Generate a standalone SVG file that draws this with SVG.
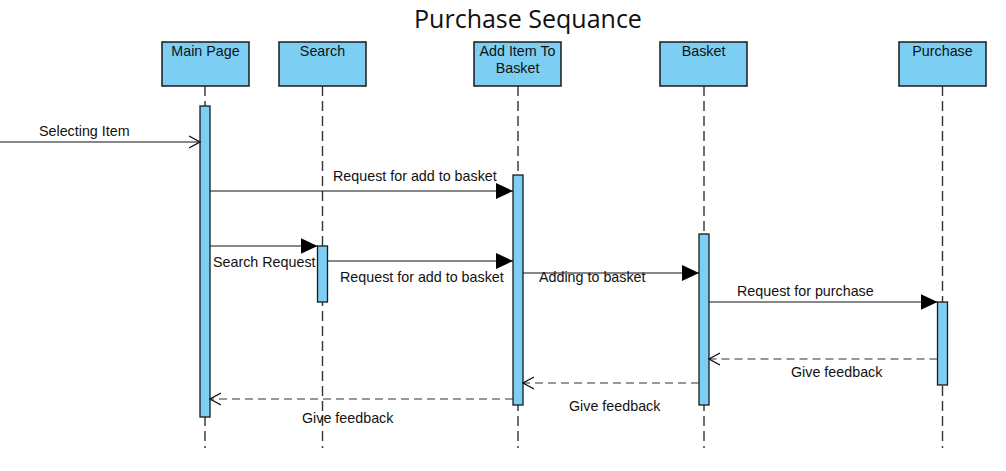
<svg xmlns="http://www.w3.org/2000/svg" width="1006" height="471" viewBox="0 0 1006 471">
<defs>
<style>
.hdr{fill:#7ccff3;stroke:#1a1a1a;stroke-width:1.5}
.act{fill:#7ccff3;stroke:#1a1a1a;stroke-width:1.3}
.life{stroke:#333;stroke-width:1.4;stroke-dasharray:10,5;fill:none}
.msg{stroke:#111;stroke-width:1.2;fill:none}
.ret{stroke:#333;stroke-width:1.2;fill:none;stroke-dasharray:8,5}
.t{font-family:"Liberation Sans",Arial,sans-serif;font-size:14.3px;fill:#111}
.c{text-anchor:middle}
</style>
<marker id="filled" viewBox="0 0 17 16" refX="17" refY="8" markerWidth="17" markerHeight="16" markerUnits="userSpaceOnUse" orient="auto"><path d="M0,0 L17,8 L0,16 Z" fill="#000"/></marker>
<marker id="open" viewBox="0 0 12 14" refX="11" refY="7" markerWidth="12" markerHeight="14" markerUnits="userSpaceOnUse" orient="auto"><path d="M0,1 L11,7 L0,13" fill="none" stroke="#111" stroke-width="1.2"/></marker>
</defs>
<rect width="1006" height="471" fill="#fff"/>
<text x="528" y="28" text-anchor="middle" font-family="'Open Sans','Noto Sans',sans-serif" font-size="25" fill="#111">Purchase Sequance</text>

<g id="mainpage">
<line class="life" x1="205" y1="86" x2="205" y2="448"/>
<rect class="hdr" x="162" y="42" width="87" height="44"/>
<text class="t c" x="205.5" y="56">Main Page</text>
<rect class="act" x="200" y="106" width="10" height="311"/>
</g>
<g id="search">
<line class="life" x1="322.5" y1="86" x2="322.5" y2="448"/>
<rect class="hdr" x="279" y="42" width="87" height="44"/>
<text class="t c" x="322.5" y="56">Search</text>
<rect class="act" x="317.5" y="246" width="10" height="56"/>
</g>
<g id="additem">
<line class="life" x1="518" y1="86" x2="518" y2="448"/>
<rect class="hdr" x="474" y="42" width="87" height="44"/>
<text class="t c" x="517.5" y="56">Add Item To</text>
<text class="t c" x="517.5" y="73">Basket</text>
<rect class="act" x="513" y="175" width="10" height="230"/>
</g>
<g id="basket">
<line class="life" x1="704" y1="86" x2="704" y2="448"/>
<rect class="hdr" x="660" y="42" width="87" height="44"/>
<text class="t c" x="703.5" y="56">Basket</text>
<rect class="act" x="699" y="234" width="10" height="171"/>
</g>
<g id="purchase">
<line class="life" x1="942.5" y1="86" x2="942.5" y2="448"/>
<rect class="hdr" x="899" y="42" width="87" height="44"/>
<text class="t c" x="942.5" y="56">Purchase</text>
<rect class="act" x="937.5" y="302" width="10" height="83"/>
</g>

<g id="connectors">
<line class="msg" x1="0" y1="142" x2="200" y2="142" marker-end="url(#open)"/>
<text class="t" x="39" y="136">Selecting Item</text>

<line class="msg" x1="210" y1="191" x2="513" y2="191" marker-end="url(#filled)"/>
<text class="t" x="333" y="181">Request for add to basket</text>

<line class="msg" x1="210" y1="246" x2="317.5" y2="246" marker-end="url(#filled)"/>
<text class="t" x="213" y="267">Search Request</text>

<line class="msg" x1="327.5" y1="261" x2="513" y2="261" marker-end="url(#filled)"/>
<text class="t" x="340" y="282">Request for add to basket</text>

<line class="msg" x1="523" y1="273" x2="699" y2="273" marker-end="url(#filled)"/>
<text class="t" x="539" y="282">Adding to basket</text>

<line class="msg" x1="709" y1="302" x2="937.5" y2="302" marker-end="url(#filled)"/>
<text class="t" x="737" y="296">Request for purchase</text>

<line class="ret" x1="937.5" y1="359" x2="709" y2="359" marker-end="url(#open)"/>
<text class="t" x="791" y="377">Give feedback</text>

<line class="ret" x1="699" y1="383" x2="523" y2="383" marker-end="url(#open)"/>
<text class="t" x="569" y="411">Give feedback</text>

<line class="ret" x1="513" y1="399" x2="210" y2="399" marker-end="url(#open)"/>
<text class="t" x="302" y="423">Give feedback</text>
</g>
</svg>
